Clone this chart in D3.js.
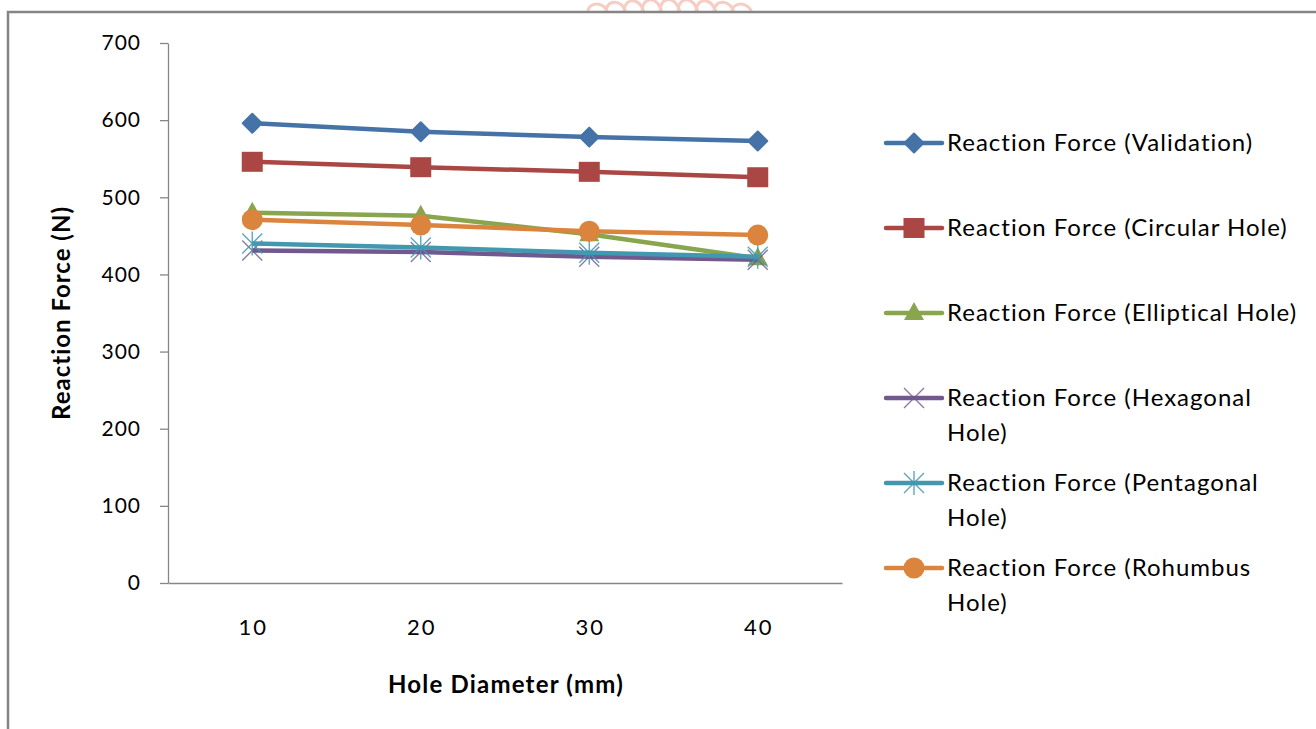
<!DOCTYPE html>
<html>
<head>
<meta charset="utf-8">
<script src="https://cdnjs.cloudflare.com/ajax/libs/d3/7.8.5/d3.min.js"></script>
<style>
  html, body { margin: 0; padding: 0; background: #ffffff; }
  svg { display: block; }
  text { font-family: Lato, "Open Sans", sans-serif; fill: #000; }
</style>
</head>
<body>
<svg id="chart" width="1316" height="729"></svg>
<script>
// Hole diameters (mm) on the category axis
const categories = ["10", "20", "30", "40"];
const yTicks = [0, 100, 200, 300, 400, 500, 600, 700];

// Reaction force (N) for each hole shape
const validation = [596, 585, 578, 573];
const circularHole = [546, 539, 533, 526];
const ellipticalHole = [480, 476, 452, 421];
const hexagonalHole = [431, 429, 423, 419];
const pentagonalHole = [440, 435, 428, 423];
const rohumbusHole = [471, 464, 456, 451];

const seriesNames = [
  "Reaction Force (Validation)",
  "Reaction Force (Circular Hole)",
  "Reaction Force (Elliptical Hole)",
  "Reaction Force (Hexagonal Hole)",
  "Reaction Force (Pentagonal Hole)",
  "Reaction Force (Rohumbus Hole)"
];
const seriesValues = [validation, circularHole, ellipticalHole, hexagonalHole, pentagonalHole, rohumbusHole];
const seriesColors = ["#4572A7", "#AA4643", "#89A54E", "#71588F", "#4198AF", "#DB843D"];
const seriesMarkers = ["diamond", "square", "triangle", "x", "star", "circle"];

const svg = d3.select("#chart");

// Faint stamp peeking above the frame
const stamp = svg.append("g").attr("fill", "none").attr("stroke", "#f6cdc4").attr("stroke-width", 3);
d3.range(9).forEach(i => {
  const sx = 596 + i * 18;
  const lift = Math.sin((i / 8) * Math.PI) * 6;
  stamp.append("path")
    .attr("d", `M${sx - 8},${13} C${sx - 9},${1 - lift} ${sx + 9},${1 - lift} ${sx + 12},${13}`);
});

// Outer frame
svg.append("path")
  .attr("d", "M8,729 L8,12 L1316,12")
  .attr("fill", "none")
  .attr("stroke", "#858585")
  .attr("stroke-width", 2.5);

const plot = { left: 168, right: 842, top: 43, bottom: 583 };

const x = d3.scaleBand().domain(categories).range([plot.left, plot.right]);
const cx = d => x(d) + x.bandwidth() / 2;
const y = d3.scaleLinear().domain([0, 700]).range([plot.bottom, plot.top]);

// Value axis
const yAxis = svg.append("g")
  .attr("transform", `translate(${plot.left},0)`)
  .call(d3.axisLeft(y).tickValues(yTicks).tickSize(8).tickSizeOuter(0).tickPadding(19).tickFormat(d3.format("d")));
yAxis.selectAll("path, line").attr("stroke", "#868686").attr("stroke-width", 1.3);
yAxis.selectAll("text").style("font-size", "21px").style("letter-spacing", "1px").attr("fill", "#000");

// Category axis
const xAxis = svg.append("g")
  .attr("transform", `translate(0,${plot.bottom})`)
  .call(d3.axisBottom(x).tickSize(0).tickSizeOuter(0).tickPadding(36));
xAxis.select("path").attr("stroke", "#868686").attr("stroke-width", 1.3);
xAxis.selectAll("text").style("font-size", "22px").style("letter-spacing", "2px").attr("dx", "1px").attr("fill", "#000");

// Axis titles
svg.append("text")
  .attr("transform", `translate(70,${(plot.top + plot.bottom) / 2}) rotate(-90)`)
  .attr("text-anchor", "middle")
  .style("font-size", "24px")
  .style("font-weight", "bold")
  .style("letter-spacing", "1px")
  .text("Reaction Force (N)");

svg.append("text")
  .attr("x", 506)
  .attr("y", 693)
  .attr("text-anchor", "middle")
  .style("font-size", "24px")
  .style("font-weight", "bold")
  .style("letter-spacing", "1.2px")
  .text("Hole Diameter (mm)");

// Marker shapes
function drawMarker(g, type, color, px, py) {
  switch (type) {
    case "diamond":
      g.append("path").attr("d", `M${px},${py - 9.5} L${px + 9.5},${py} L${px},${py + 9.5} L${px - 9.5},${py} Z`)
        .attr("fill", color).attr("stroke", color).attr("stroke-width", 2).attr("stroke-linejoin", "round");
      break;
    case "square":
      g.append("rect").attr("x", px - 10.5).attr("y", py - 10).attr("width", 21).attr("height", 20).attr("fill", color);
      break;
    case "triangle":
      g.append("path").attr("d", `M${px},${py - 11} L${px + 10},${py + 7} L${px - 10},${py + 7} Z`).attr("fill", color);
      break;
    case "circle":
      g.append("circle").attr("cx", px).attr("cy", py).attr("r", 10.5).attr("fill", color);
      break;
    case "x":
      g.append("path").attr("d", `M${px - 10},${py - 10} L${px + 10},${py + 10} M${px - 10},${py + 10} L${px + 10},${py - 10}`)
        .attr("stroke", color).attr("stroke-width", 1.4).attr("fill", "none").attr("opacity", 0.8);
      break;
    case "star":
      g.append("path").attr("d", `M${px - 10},${py - 10} L${px + 10},${py + 10} M${px - 10},${py + 10} L${px + 10},${py - 10} M${px},${py - 12} L${px},${py + 12}`)
        .attr("stroke", color).attr("stroke-width", 1.4).attr("fill", "none").attr("opacity", 0.85);
      break;
  }
}

// Series lines and markers
const line = d3.line().x((d, i) => cx(categories[i])).y(d => y(d));
seriesValues.forEach((vals, s) => {
  const g = svg.append("g");
  g.append("path")
    .datum(vals)
    .attr("d", line)
    .attr("fill", "none")
    .attr("stroke", seriesColors[s])
    .attr("stroke-width", 4.5)
    .attr("stroke-linejoin", "round");
  vals.forEach((v, i) => drawMarker(g, seriesMarkers[s], seriesColors[s], cx(categories[i]), y(v)));
});

// Legend
const legendX = 886, legendTop = 143, legendStep = 85, wrapWidth = 360;
seriesNames.forEach((name, s) => {
  const ly = legendTop + s * legendStep;
  const g = svg.append("g");
  g.append("line").attr("x1", legendX).attr("x2", legendX + 56).attr("y1", ly).attr("y2", ly)
    .attr("stroke", seriesColors[s]).attr("stroke-width", 4.5).attr("stroke-linecap", "round");
  drawMarker(g, seriesMarkers[s], seriesColors[s], legendX + 28, ly);

  const t = g.append("text").attr("x", legendX + 61).attr("y", ly + 8)
    .style("font-size", "24px").style("letter-spacing", "1px");
  // word wrap to the legend width
  const words = name.split(" ");
  let lineWords = [];
  let tspan = t.append("tspan").attr("x", legendX + 61).attr("dy", 0);
  words.forEach(w => {
    lineWords.push(w);
    tspan.text(lineWords.join(" "));
    if (tspan.node().getComputedTextLength() > wrapWidth && lineWords.length > 1) {
      lineWords.pop();
      tspan.text(lineWords.join(" "));
      lineWords = [w];
      tspan = t.append("tspan").attr("x", legendX + 61).attr("dy", 35).text(w);
    }
  });
});
</script>
</body>
</html>
